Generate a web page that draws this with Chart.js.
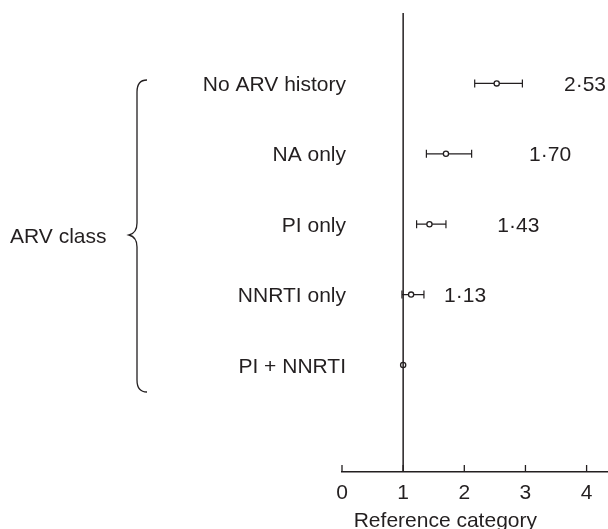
<!DOCTYPE html>
<html lang="en">

<head>
    <meta charset="UTF-8">
    <title>ARV class</title>
    <style>
        body { margin: 0; background: #fff; }
        canvas { display: block; }
    </style>
</head>

<body>

    <canvas id="cvs" width="608" height="529"></canvas>
    <script src="https://cdn.jsdelivr.net/npm/chart.js@4.4.1/dist/chart.umd.min.js"></script>

    <script>
        // data
        const categories = ['No ARV history', 'NA only', 'PI only', 'NNRTI only', 'PI + NNRTI'];
        const rows = [5, 4, 3, 2, 1];
        const oddsRatio = [2.53, 1.70, 1.43, 1.13, 1];
        const ciLow = [2.17, 1.38, 1.22, 0.98, null];
        const ciHigh = [2.95, 2.12, 1.70, 1.34, null];
        const valueLabels = ['2·53', '1·70', '1·43', '1·13', ''];
        const xTicks = [0, 1, 2, 3, 4];
        const groupLabel = 'ARV class';
        const axisTitle = 'Reference category';

        const ink = '#231f20';
        const fontFamily = '"Liberation Sans", Arial, Helvetica, sans-serif';
        const fontSize = 21;
        // left edge of the printed value, in x-axis units
        const valueLabelX = [3.63, 3.06, 2.54, 1.67];

        const ctx = document.getElementById("cvs").getContext("2d");

        const extras = {
            id: 'extras',
            beforeDatasetsDraw(chart) {
                const c = chart.ctx;
                const xs = chart.scales.x, ys = chart.scales.y;
                c.save();
                c.strokeStyle = ink;
                c.lineWidth = 1.2;
                for (let i = 0; i < rows.length; i++) {
                    if (ciLow[i] == null) continue;
                    const y = ys.getPixelForValue(rows[i]);
                    const x1 = xs.getPixelForValue(ciLow[i]);
                    const x2 = xs.getPixelForValue(ciHigh[i]);
                    c.beginPath();
                    c.moveTo(x1, y); c.lineTo(x2, y);
                    c.moveTo(x1, y - 4); c.lineTo(x1, y + 4);
                    c.moveTo(x2, y - 4); c.lineTo(x2, y + 4);
                    c.stroke();
                }
                c.restore();
            },
            afterDraw(chart) {
                const c = chart.ctx;
                const xs = chart.scales.x, ys = chart.scales.y;
                const area = chart.chartArea;
                c.save();
                // upward tick marks
                c.strokeStyle = ink;
                c.lineWidth = 1.3;
                c.beginPath();
                xTicks.forEach(v => {
                    const x = xs.getPixelForValue(v);
                    c.moveTo(x, area.bottom);
                    c.lineTo(x, area.bottom - 7);
                });
                c.stroke();

                c.fillStyle = ink;
                c.font = fontSize + 'px ' + fontFamily;
                const capHalf = fontSize * 0.358;

                // category names
                c.textAlign = 'right';
                categories.forEach((name, i) => {
                    c.fillText(name, 346, ys.getPixelForValue(rows[i]) + capHalf);
                });

                // printed odds ratios
                c.textAlign = 'left';
                valueLabelX.forEach((vx, i) => {
                    c.fillText(valueLabels[i], xs.getPixelForValue(vx), ys.getPixelForValue(rows[i]) + capHalf);
                });

                // group label and brace
                c.textAlign = 'left';
                c.fillText(groupLabel, 10, 235 + capHalf);

                c.lineWidth = 1.3;
                c.beginPath();
                const bx = 137, top = 80, mid = 235, bot = 392;
                c.moveTo(147, top);
                c.quadraticCurveTo(bx, top, bx, top + 12);
                c.lineTo(bx, mid - 12);
                c.quadraticCurveTo(bx, mid - 2, 129, mid);
                c.quadraticCurveTo(bx, mid + 2, bx, mid + 12);
                c.lineTo(bx, bot - 12);
                c.quadraticCurveTo(bx, bot, 147, bot);
                c.stroke();

                // axis title
                c.textAlign = 'center';
                c.fillText(axisTitle, xs.getPixelForValue(1.69), 527);
                c.restore();
            }
        };

        const yMin = -0.52, yMax = 6;

        new Chart(ctx, {
            type: 'scatter',
            data: {
                datasets: [{
                    label: 'reference',
                    data: [{ x: 1, y: yMin }, { x: 1, y: yMax }],
                    showLine: true,
                    borderColor: ink,
                    borderWidth: 1.5,
                    pointRadius: 0
                }, {
                    label: 'odds ratio',
                    data: rows.map((r, i) => ({ x: oddsRatio[i], y: r })),
                    pointRadius: 2.6,
                    pointBackgroundColor: '#fff',
                    pointBorderColor: ink,
                    pointBorderWidth: 1.3
                }]
            },
            options: {
                responsive: false,
                animation: false,
                layout: { autoPadding: false, padding: { left: 342, top: 13, right: 0, bottom: 0 } },
                plugins: { legend: { display: false }, tooltip: { enabled: false } },
                scales: {
                    x: {
                        type: 'linear',
                        min: 0,
                        max: 4.35,
                        afterFit(scale) {
                            scale.height = 57;
                        },
                        afterBuildTicks(scale) { scale.ticks = xTicks.map(v => ({ value: v })); },
                        grid: { drawOnChartArea: false, drawTicks: false },
                        border: { display: true, color: ink, width: 1.5 },
                        ticks: {
                            padding: 9,
                            color: ink,
                            font: { family: fontFamily, size: fontSize },
                            callback: v => v
                        }
                    },
                    y: {
                        type: 'linear',
                        display: false,
                        min: yMin,
                        max: yMax
                    }
                }
            },
            plugins: [extras]
        });
    </script>
</body>

</html>
